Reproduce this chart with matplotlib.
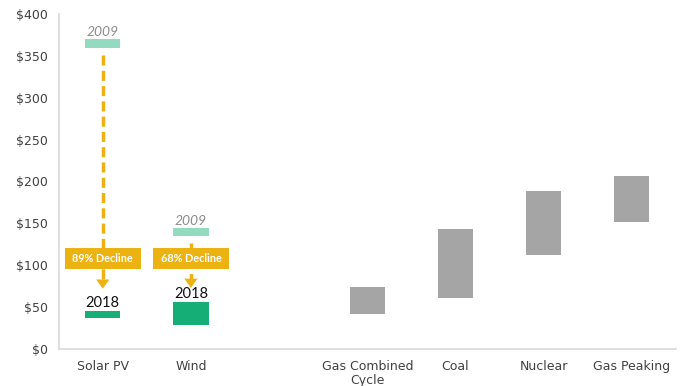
import matplotlib
matplotlib.use("Agg")
import matplotlib.pyplot as plt
import numpy as np

categories = ["Solar PV", "Wind", "", "Gas Combined\nCycle", "Coal", "Nuclear", "Gas Peaking"]
positions = [0, 1, 2, 3, 4, 5, 6]

# renewables: 2009 and 2018 ranges ($/MWh)
renew_pos = [0, 1]
renew_2009_low = [360, 135]
renew_2009_high = [370, 145]
renew_2018_low = [37, 29]
renew_2018_high = [45, 56]
decline_labels = ["89% Decline", "68% Decline"]
arrow_start = [351, 127]
arrow_tip = [72, 73]
box_low = [95.5, 95.5]
box_high = [121, 121]

# conventional ranges
conv_pos = [3, 4, 5, 6]
conv_low = [42, 61, 112, 152]
conv_high = [74, 143, 189, 206]

yticks = [0, 50, 100, 150, 200, 250, 300, 350, 400]
ytick_labels = ["$0", "$50", "$100", "$150", "$200", "$250", "$300", "$350", "$400"]

c2009 = "#93DBC0"
c2018 = "#14AE76"
cgray = "#A5A5A5"
cgold = "#EBB211"

fig = plt.figure(figsize=(6.8, 3.86), dpi=100)
ax = fig.add_axes([0.0863, 0.0959, 0.9077, 0.8678])

bw = 0.4
ax.bar(renew_pos, np.subtract(renew_2009_high, renew_2009_low), bottom=renew_2009_low,
       width=bw, color=c2009, zorder=2)
ax.bar(renew_pos, np.subtract(renew_2018_high, renew_2018_low), bottom=renew_2018_low,
       width=bw, color=c2018, zorder=2)
ax.bar(conv_pos, np.subtract(conv_high, conv_low), bottom=conv_low,
       width=bw, color=cgray, zorder=2)

for i, x in enumerate(renew_pos):
    ax.text(x, renew_2009_high[i] + 1, "2009", ha="center", va="bottom",
            fontsize=10, style="italic", color="#8C8C8C", family="Lato")
    ax.text(x, renew_2018_high[i] + 1.5, "2018", ha="center", va="bottom",
            fontsize=10.5, color="#111111", family="Lato")
    head_len = 11
    ax.plot([x, x], [arrow_start[i], arrow_tip[i] + head_len], color=cgold,
            lw=2.5, dashes=(2.9, 1.5), solid_capstyle="butt", zorder=1)
    ax.fill([x - 0.075, x + 0.075, x], [arrow_tip[i] + head_len, arrow_tip[i] + head_len, arrow_tip[i]],
            color=cgold, lw=0, zorder=3)
    ax.bar(x, box_high[i] - box_low[i], bottom=box_low[i], width=0.86,
           color=cgold, zorder=4)
    ax.text(x, (box_low[i] + box_high[i]) / 2, decline_labels[i], ha="center", va="center",
            fontsize=7.8, fontweight="bold", color="white", family="Lato", zorder=5)

ax.set_xlim(-0.5, 6.5)
ax.set_ylim(0, 400)
ax.set_yticks(yticks)
ax.set_yticklabels(ytick_labels)
ax.set_xticks(positions)
ax.set_xticklabels(categories, linespacing=1.1)
ax.tick_params(axis="both", length=0, colors="#404040", labelsize=9)
ax.tick_params(axis="x", pad=8)
ax.tick_params(axis="y", pad=8)
for s in ["top", "right"]:
    ax.spines[s].set_visible(False)
for s in ["left", "bottom"]:
    ax.spines[s].set_color("#D9D9D9")
    ax.spines[s].set_linewidth(1.2)

fig.savefig("out.png", dpi=100)
